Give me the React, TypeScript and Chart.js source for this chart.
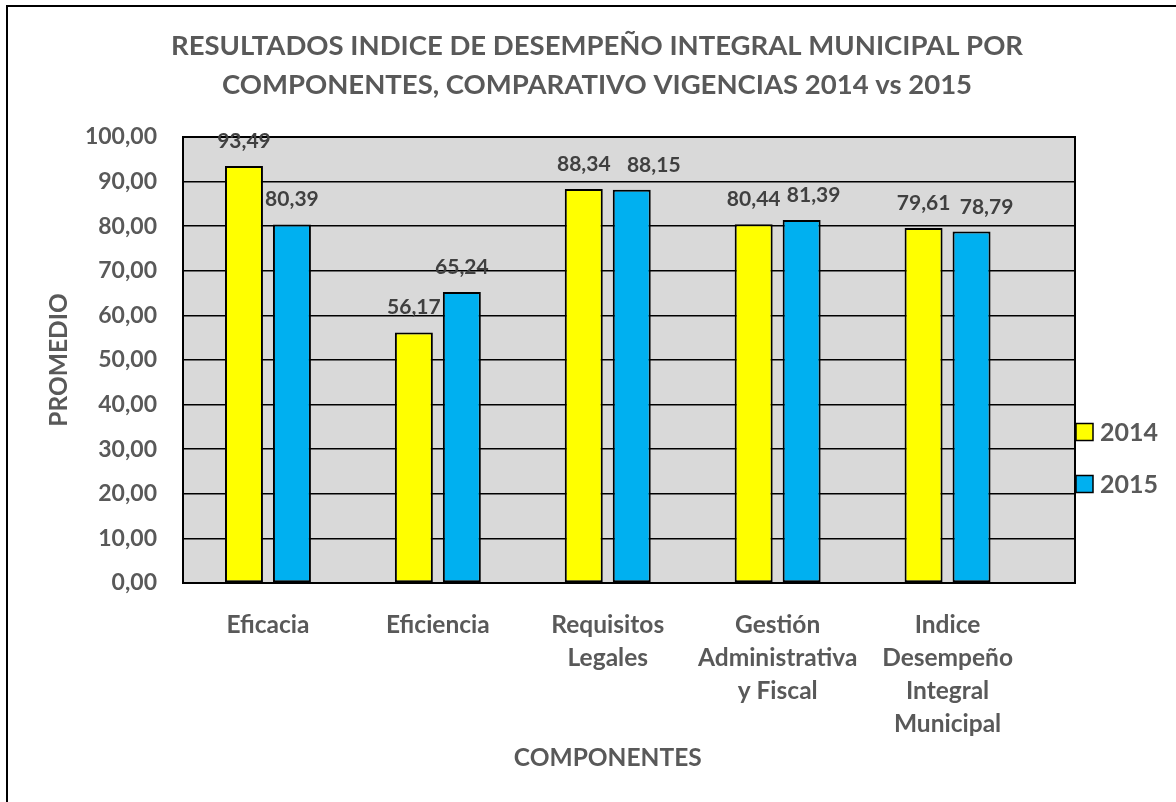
import React, { useEffect, useRef } from "react";
import { Chart, registerables } from "chart.js";

Chart.register(...registerables);

const CATEGORIES: string[][] = [
  ["Eficacia"],
  ["Eficiencia"],
  ["Requisitos", "Legales"],
  ["Gestión", "Administrativa", "y Fiscal"],
  ["Indice", "Desempeño", "Integral", "Municipal"],
];
const SERIES_LABELS = ["2014", "2015"];
const VALUES_2014 = [93.49, 56.17, 88.34, 80.44, 79.61];
const VALUES_2015 = [80.39, 65.24, 88.15, 81.39, 78.79];
const SERIES_COLORS = ["#FFFF00", "#00B0F0"];
// horizontal nudges of the value labels (px), as placed in the original
const LABEL_NUDGE_2014 = [0, 0, 0, 0, 0];
const LABEL_NUDGE_2015 = [0, 0, 22, 12, 15];
const Y_MIN = 0;
const Y_MAX = 100;
const Y_STEP = 10;
const TITLE = [
  "RESULTADOS INDICE DE DESEMPEÑO INTEGRAL MUNICIPAL POR",
  "COMPONENTES, COMPARATIVO VIGENCIAS 2014 vs 2015",
];
const Y_TITLE = "PROMEDIO";
const X_TITLE = "COMPONENTES";

const FONT = "Lato";
const TEXT = "#595959";
const LABEL_TEXT = "#404040";

const fmt = (v: number) => v.toFixed(2).replace(".", ",");

const decor = {
  id: "decor",
  beforeDraw(chart: any) {
    const { ctx, chartArea: a } = chart;
    ctx.save();
    ctx.fillStyle = "#ffffff";
    ctx.fillRect(0, 0, chart.width, chart.height);
    ctx.strokeStyle = "#000000";
    ctx.lineWidth = 2;
    ctx.beginPath();
    ctx.moveTo(7, chart.height);
    ctx.lineTo(7, 6);
    ctx.lineTo(chart.width, 6);
    ctx.stroke();
    ctx.fillStyle = "#D9D9D9";
    ctx.fillRect(a.left, a.top, a.right - a.left, a.bottom - a.top);
    ctx.restore();
  },
  afterDatasetsDraw(chart: any) {
    const { ctx, chartArea: a } = chart;
    ctx.save();
    // plot frame
    ctx.strokeStyle = "#000000";
    ctx.lineWidth = 2;
    ctx.strokeRect(a.left, a.top, a.right - a.left, a.bottom - a.top);
    // data labels
    const nudges = [LABEL_NUDGE_2014, LABEL_NUDGE_2015];
    ctx.font = `bold 21px ${FONT}`;
    ctx.fillStyle = LABEL_TEXT;
    ctx.textAlign = "center";
    ctx.textBaseline = "alphabetic";
    chart.data.datasets.forEach((ds: any, di: number) => {
      const meta = chart.getDatasetMeta(di);
      meta.data.forEach((bar: any, i: number) => {
        const v = ds.data[i].y;
        ctx.fillText(fmt(v), bar.x + (nudges[di][i] || 0), bar.y - 18);
      });
    });
    // x axis title, centred on the category span
    const xs = chart.scales.x;
    ctx.font = `bold 24.5px ${FONT}`;
    ctx.fillStyle = TEXT;
    ctx.textBaseline = "middle";
    ctx.fillText(X_TITLE, xs.getPixelForValue((CATEGORIES.length - 1) / 2), a.bottom + 175);
    // legend
    chart.data.datasets.forEach((ds: any, di: number) => {
      const cy = a.top + 295 + di * 52;
      const bx = a.right + 1;
      ctx.fillStyle = ds.backgroundColor;
      ctx.fillRect(bx, cy - 8.5, 17, 17);
      ctx.lineWidth = 1.5;
      ctx.strokeStyle = "#000000";
      ctx.strokeRect(bx, cy - 8.5, 17, 17);
      ctx.font = `bold 25px ${FONT}`;
      ctx.fillStyle = TEXT;
      ctx.textAlign = "left";
      ctx.textBaseline = "middle";
      ctx.fillText(ds.label, bx + 24, cy + 1);
    });
    ctx.restore();
  },
};

export default function App() {
  const ref = useRef<HTMLCanvasElement | null>(null);
  useEffect(() => {
    if (!ref.current) return;
    Chart.defaults.font.family = FONT;
    const chart = new Chart(ref.current, {
      type: "bar",
      data: {
        datasets: [
          {
            label: SERIES_LABELS[0],
            data: VALUES_2014.map((v, i) => ({ x: i, y: v })),
            backgroundColor: SERIES_COLORS[0],
            borderColor: "#000000",
            borderWidth: 2,
            borderSkipped: false,
            categoryPercentage: 96 / 170,
            barPercentage: 38 / 48,
          },
          {
            label: SERIES_LABELS[1],
            data: VALUES_2015.map((v, i) => ({ x: i, y: v })),
            backgroundColor: SERIES_COLORS[1],
            borderColor: "#000000",
            borderWidth: 2,
            borderSkipped: false,
            categoryPercentage: 96 / 170,
            barPercentage: 38 / 48,
          },
        ],
      },
      options: {
        responsive: false,
        animation: false,
        devicePixelRatio: 1,
        layout: { padding: { top: 10, left: 20, right: 2, bottom: 0 } },
        plugins: {
          legend: { display: false },
          tooltip: { enabled: false },
          title: {
            display: true,
            text: TITLE,
            color: TEXT,
            font: { family: FONT, size: 27.5, weight: "bold", lineHeight: 39 / 27.5 },
            padding: { top: 16.5, bottom: 32.5 },
          },
        },
        scales: {
          x: {
            type: "linear",
            offset: false,
            min: -0.5,
            max: CATEGORIES.length - 0.25,
            grid: { display: false, offset: false },
            border: { display: false },
            afterBuildTicks: (s: any) => {
              s.ticks = CATEGORIES.map((_, i) => ({ value: i }));
            },
            afterFit: (s: any) => {
              s.height = 219;
            },
            ticks: {
              autoSkip: false,
              maxRotation: 0,
              minRotation: 0,
              padding: 18,
              color: TEXT,
              font: { family: FONT, size: 24.5, weight: "bold", lineHeight: 33 / 24.5 },
              callback: (v: any) => CATEGORIES[Math.round(Number(v))] ?? "",
            },
          },
          y: {
            min: Y_MIN,
            max: Y_MAX,
            grid: { color: "#000000", lineWidth: 1.5, drawTicks: false },
            border: { display: false },
            afterFit: (s: any) => {
              s.width = 163;
            },
            ticks: {
              stepSize: Y_STEP,
              padding: 26,
              color: TEXT,
              font: { family: FONT, size: 23, weight: "bold" },
              callback: (v: any) => fmt(Number(v)),
            },
            title: {
              display: true,
              text: Y_TITLE,
              color: TEXT,
              font: { family: FONT, size: 24.5, weight: "bold", lineHeight: 1.2 },
              padding: { top: 24.3, bottom: 0 },
            },
          },
          y2: {
            position: "right",
            display: true,
            grid: { display: false },
            border: { display: false },
            ticks: { display: false },
            afterFit: (s: any) => {
              s.width = 99;
            },
          },
        },
      },
      plugins: [decor],
    } as any);
    return () => chart.destroy();
  }, []);
  return (
    <canvas
      ref={ref}
      width={1176}
      height={802}
      style={{ position: "fixed", left: 0, top: 0, display: "block" }}
    />
  );
}
